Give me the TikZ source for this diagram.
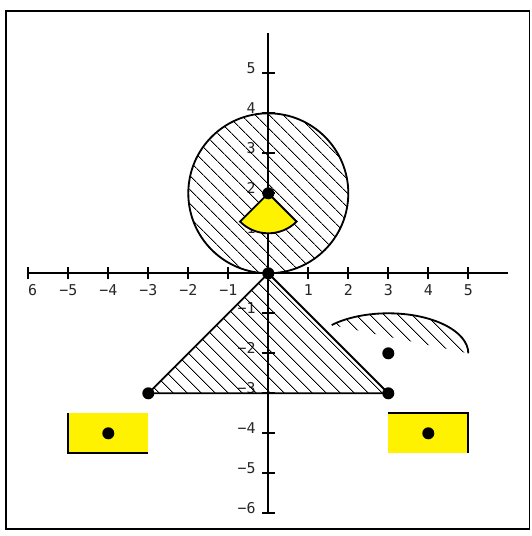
\documentclass[tikz,border=0pt]{standalone}
\usepackage{fontspec}
\newfontfamily\labfont{DejaVu Sans Mono}
\usetikzlibrary{patterns.meta}
\tikzset{
  axisline/.style={line width=1.4pt},
  tickline/.style={line width=1.3pt},
  xlab/.style={anchor=north, inner sep=0pt, font=\labfont\fontsize{10.6}{12}\selectfont, text=black!85},
  ylab/.style={anchor=base east, inner sep=0pt, font=\labfont\fontsize{10.6}{12}\selectfont, text=black!85},
  hatch/.style={pattern={Lines[angle=-45,distance=6.9pt,line width=0.6pt]}},
  outline/.style={line width=1.3pt},
  dotnode/.style={circle, fill=black, inner sep=0pt, minimum size=0.3cm},
  yrect/.style={fill=yellow, draw=none}
}
\begin{document}
\begin{tikzpicture}
\useasboundingbox (-6.7075,-6.5675) rectangle (6.5675,6.8325);
% frame
\draw[line width=1.2pt] (-6.56,-6.4) rectangle (6.53,6.56);
% axes
\coordinate (xl) at (-6,0); \coordinate (xr) at (6,0);
\coordinate (yb) at (0,-6); \coordinate (yt) at (0,6);
\draw[axisline] (xl) -- (xr);
\draw[axisline] (yb) -- (yt);
\foreach \x in {-6,-5,-4,-3,-2,-1,1,2,3,4,5}
  \draw[tickline] (\x,-0.15) -- (\x,0.15);
\foreach \y in {-6,-5,-4,-3,-2,-1,1,2,3,4,5}
  \draw[tickline] (-0.165,\y) -- (0.17,\y);
% x labels
\node[xlab] (lxm6) at (-5.89,-0.27) {6};
\foreach \x/\t in {-5/−5,-4/−4,-3/−3,-2/−2,-1/−1,1/1,2/2,3/3,4/4,5/5}
  \node[xlab] (lx\x) at (\x,-0.27) {\t};
% y labels
\foreach \y/\t in {-6/−6,-5/−5,-4/−4,-3/−3,-2/−2,-1/−1,1/1,2/2,3/3,4/4,5/5}
  \node[ylab] (ly\y) at (-0.31,\y) {\t};
% circle
\draw[hatch] (0,2) circle[radius=2];
\draw[outline] (0,2) circle[radius=2];
% yellow sector
\draw[outline, fill=yellow] (0,2) -- ++(225:1) arc[start angle=225, end angle=315, radius=1] -- cycle;
% triangle
\draw[outline, hatch] (0,0) -- (-3,-3) -- (3,-3) -- cycle;
% elliptic arc region
\fill[hatch] (1.5858,-1.2929) arc[start angle=135, end angle=0, x radius=2, y radius=1] -- cycle;
\draw[outline] (1.5858,-1.2929) arc[start angle=135, end angle=0, x radius=2, y radius=1];
% yellow rectangles
\fill[yrect] (-5,-4.5) rectangle (-3,-3.5);
\draw[outline] (-5,-3.5) -- (-5,-4.5) -- (-3,-4.5);
\fill[yrect] (3,-4.5) rectangle (5,-3.5);
\draw[outline] (3,-3.5) -- (5,-3.5) -- (5,-4.5);
% dots
\node[dotnode] (d1) at (0,2) {};
\node[dotnode] (d2) at (0,0) {};
\node[dotnode] (d3) at (-3,-3) {};
\node[dotnode] (d4) at (3,-3) {};
\node[dotnode] (d5) at (3,-2) {};
\node[dotnode] (d6) at (-4,-4) {};
\node[dotnode] (d7) at (4,-4) {};
\end{tikzpicture}
\end{document}
